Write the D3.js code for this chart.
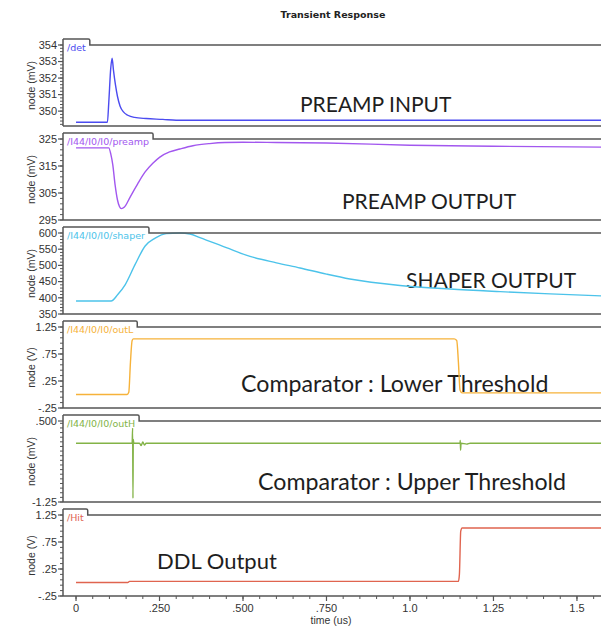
<!DOCTYPE html>
<html>
<head>
<meta charset="utf-8">
<script src="https://cdn.jsdelivr.net/npm/d3@7"></script>
<style>
  body { margin: 0; background: #fff; }
  svg { display: block; }
</style>
</head>
<body>
<div id="chart"></div>
<script>
// time axis (us)
const timeTicks = [0, 0.25, 0.5, 0.75, 1.0, 1.25, 1.5];
const timeTickLabels = ['0', '.250', '.500', '.750', '1.0', '1.25', '1.5'];

// signals
const detTime  = [0, 0.094, 0.098, 0.104, 0.108, 0.112, 0.118, 0.124, 0.132, 0.142, 0.155, 0.175, 0.21, 0.26, 0.3, 0.5, 1.0, 1.572];
const detValue = [349.33, 349.33, 350.5, 352.6, 353.2, 352.5, 351.6, 350.9, 350.3, 349.95, 349.75, 349.62, 349.55, 349.5, 349.45, 349.45, 349.45, 349.45];

const preampTime  = [0, 0.098, 0.104, 0.11, 0.117, 0.124, 0.13, 0.136, 0.145, 0.162, 0.185, 0.207, 0.23, 0.251, 0.28, 0.311, 0.35, 0.4, 0.446, 0.5, 0.6, 0.75, 1.0, 1.25, 1.572];
const preampValue = [321.7, 321.7, 319.5, 315.5, 308, 302.5, 300, 299.2, 299.8, 303.5, 308.5, 312.8, 316, 318.3, 320.2, 321.3, 322.5, 323.3, 323.7, 323.8, 323.7, 323.5, 322.7, 322.3, 322.0];

const shaperTime  = [0, 0.105, 0.125, 0.147, 0.177, 0.207, 0.237, 0.27, 0.311, 0.341, 0.371, 0.45, 0.521, 0.6, 0.671, 0.75, 0.82, 0.97, 1.12, 1.27, 1.42, 1.572];
const shaperValue = [390, 390, 410, 440, 503, 560, 584, 598, 600, 597, 586, 555, 528, 508, 492, 473, 458, 438, 427, 419, 412, 406];

const outLTime  = [0, 0.153, 0.158, 0.163, 0.168, 0.172, 0.5, 1.0, 1.132, 1.14, 1.145, 1.15, 1.156, 1.2, 1.572];
const outLValue = [0.0, 0.0, 0.04, 0.6, 1.0, 1.03, 1.03, 1.03, 1.03, 1.0, 0.6, 0.08, 0.03, 0.03, 0.03];

const outHTime  = [0, 0.168, 0.1695, 0.1705, 0.1715, 0.173, 0.19, 0.195, 0.2, 0.205, 0.21, 1.15, 1.1505, 1.1515, 1.153, 1.17, 1.18, 1.572];
const outHValue = [0.02, 0.02, 0.35, -1.17, 0.1, 0.02, 0.02, -0.03, 0.05, -0.02, 0.02, 0.02, 0.08, -0.13, 0.02, 0.0, 0.02, 0.02];

const hitTime  = [0, 0.155, 0.16, 0.5, 1.0, 1.145, 1.148, 1.152, 1.156, 1.2, 1.572];
const hitValue = [0.0, 0.0, 0.02, 0.02, 0.02, 0.02, 0.15, 0.95, 1.01, 1.01, 1.01];

const signalTimes  = [detTime, preampTime, shaperTime, outLTime, outHTime, hitTime];
const signalValues = [detValue, preampValue, shaperValue, outLValue, outHValue, hitValue];
const signalNames  = ['/det', '/I44/I0/I0/preamp', '/I44/I0/I0/shaper', '/I44/I0/I0/outL', '/I44/I0/I0/outH', '/Hit'];
const signalUnits  = ['node (mV)', 'node (mV)', 'node (mV)', 'node (V)', 'node (mV)', 'node (V)'];
const yDomains = [[349.1, 354], [295, 325], [350, 600], [-0.25, 1.25], [-1.25, 0.5], [-0.25, 1.25]];
const yTicks = [
  [350, 351, 352, 353, 354],
  [295, 305, 315, 325],
  [350, 400, 450, 500, 550, 600],
  [-0.25, 0.25, 0.75, 1.25],
  [-1.25, 0.5],
  [-0.25, 0.25, 0.75, 1.25]
];
const yTickLabels = [
  ['350', '351', '352', '353', '354'],
  ['295', '305', '315', '325'],
  ['350', '400', '450', '500', '550', '600'],
  ['-.25', '.25', '.75', '1.25'],
  ['-1.25', '.500'],
  ['-.25', '.25', '.75', '1.25']
];
const minorSteps = [0.2, 2, 10, 0.1, 0.1, 0.1];
const notes = ['PREAMP INPUT', 'PREAMP OUTPUT', 'SHAPER OUTPUT', 'Comparator : Lower Threshold', 'Comparator : Upper Threshold', 'DDL Output'];

const colors = ['#4b4bf0', '#a257ef', '#4cc3ea', '#f6b23a', '#83b347', '#e0644f'];
const notePos = [[300, 112], [342, 209], [406, 288], [241, 392], [258, 490], [157, 569]];
const noteSize = [21, 21, 21, 23.2, 23.2, 22];

const width = 601;
const height = 628;
const left = 63;
const panelTop = 45;
const panelStep = 94;
const panelH = 81;
const border = '#555';

let svg = d3.select('#chart')
            .append('svg')
            .attr('width', width)
            .attr('height', height);

svg.append('text')
   .attr('x', 333)
   .attr('y', 18)
   .attr('text-anchor', 'middle')
   .attr('font-family', 'DejaVu Sans, sans-serif')
   .attr('font-size', 9.5)
   .attr('font-weight', 600)
   .attr('fill', '#222')
   .text('Transient Response');

let x = d3.scaleLinear()
          .domain([-0.039, 1.572])
          .range([left, width]);

let defs = svg.append('defs');

signalNames.forEach((name, i) => {
  let top = panelTop + i * panelStep;
  let bottom = top + panelH;

  let y = d3.scaleLinear()
            .domain(yDomains[i])
            .range([bottom, top]);

  let g = svg.append('g');

  defs.append('clipPath')
      .attr('id', 'clip' + i)
      .append('rect')
        .attr('x', left + 1)
        .attr('y', top - 1)
        .attr('width', width - left)
        .attr('height', panelH + 1);

  // note
  g.append('text')
   .attr('x', notePos[i][0])
   .attr('y', notePos[i][1])
   .attr('font-family', 'Lato, sans-serif')
   .attr('font-size', noteSize[i])
   .attr('fill', '#1e1e1e')
   .text(notes[i]);

  let pts = signalTimes[i].map((t, k) => ({t: t, v: signalValues[i][k]}));
  let line = d3.line()
               .curve(d3.curveMonotoneX)
               .x(d => x(d.t))
               .y(d => y(d.v));

  g.append('path')
   .datum(pts)
   .attr('clip-path', 'url(#clip' + i + ')')
   .attr('fill', 'none')
   .attr('stroke', colors[i])
   .attr('stroke-width', 1.4)
   .attr('stroke-linejoin', 'round')
   .attr('d', line);

  // tab with signal name
  let label = g.append('text')
               .attr('x', left + 4)
               .attr('y', top + 6)
               .attr('font-family', 'DejaVu Sans, sans-serif')
               .attr('font-size', 9.5)
               .attr('fill', colors[i])
               .text(name);
  let tabEnd = left + 4 + label.node().getComputedTextLength() + 4;

  g.insert('rect', 'text:last-of-type')
   .attr('x', left + 1)
   .attr('y', top - 5)
   .attr('width', tabEnd - left - 1)
   .attr('height', 12)
   .attr('fill', '#fff');
  label.raise();

  g.append('path')
   .attr('d', 'M' + left + ',' + (top - 6) + 'H' + (tabEnd - 1.5) + 'Q' + tabEnd + ',' + (top - 6) + ' ' + tabEnd + ',' + (top - 4.5) + 'V' + top + 'H' + width)
   .attr('fill', 'none')
   .attr('stroke', border)
   .attr('stroke-width', 1.5);

  g.append('line')
   .attr('x1', left).attr('x2', width)
   .attr('y1', bottom).attr('y2', bottom)
   .attr('stroke', border)
   .attr('stroke-width', 1.5);

  g.append('line')
   .attr('x1', left).attr('x2', left)
   .attr('y1', top - 6).attr('y2', bottom)
   .attr('stroke', border)
   .attr('stroke-width', 1.5);

  // y ticks
  let minor = d3.range(yDomains[i][0], yDomains[i][1] + 1e-9, minorSteps[i])
                .filter(v => y(v) >= top - 0.5);
  if (i === 0) minor = d3.range(349.2, 354.01, minorSteps[i]);

  g.selectAll('.minor')
   .data(minor)
   .enter().append('line')
     .attr('x1', left - 3).attr('x2', left)
     .attr('y1', d => y(d)).attr('y2', d => y(d))
     .attr('stroke', border)
     .attr('stroke-width', 1);

  g.selectAll('.major')
   .data(yTicks[i])
   .enter().append('line')
     .attr('x1', left - 5).attr('x2', left)
     .attr('y1', d => y(d)).attr('y2', d => y(d))
     .attr('stroke', border)
     .attr('stroke-width', 1.2);

  g.selectAll('.ylab')
   .data(yTicks[i])
   .enter().append('text')
     .attr('x', left - 6)
     .attr('y', d => y(d))
     .attr('dy', '0.35em')
     .attr('text-anchor', 'end')
     .attr('font-family', 'Liberation Sans, sans-serif')
     .attr('font-size', 11)
     .attr('fill', '#333')
     .text((d, k) => yTickLabels[i][k]);

  g.append('text')
   .attr('transform', 'translate(31,' + (top + panelH / 2) + ') rotate(-90)')
   .attr('text-anchor', 'middle')
   .attr('dy', '0.35em')
   .attr('font-family', 'Liberation Sans, sans-serif')
   .attr('font-size', 10.5)
   .attr('fill', '#333')
   .text(signalUnits[i]);
});

// time axis under the last panel
let axisY = panelTop + 5 * panelStep + panelH;

svg.selectAll('.xminor')
   .data(d3.range(-0.0, 1.5701, 0.05))
   .enter().append('line')
     .attr('x1', d => x(d)).attr('x2', d => x(d))
     .attr('y1', axisY).attr('y2', axisY + 3)
     .attr('stroke', border)
     .attr('stroke-width', 1);

svg.selectAll('.xmajor')
   .data(timeTicks)
   .enter().append('line')
     .attr('x1', d => x(d)).attr('x2', d => x(d))
     .attr('y1', axisY).attr('y2', axisY + 5)
     .attr('stroke', border)
     .attr('stroke-width', 1.2);

svg.selectAll('.xlab')
   .data(timeTicks)
   .enter().append('text')
     .attr('x', d => x(d))
     .attr('y', axisY + 16)
     .attr('text-anchor', 'middle')
     .attr('font-family', 'Liberation Sans, sans-serif')
     .attr('font-size', 11)
     .attr('fill', '#333')
     .text((d, k) => timeTickLabels[k]);

svg.append('text')
   .attr('x', 331)
   .attr('y', axisY + 28)
   .attr('text-anchor', 'middle')
   .attr('font-family', 'Liberation Sans, sans-serif')
   .attr('font-size', 10.5)
   .attr('fill', '#333')
   .text('time (us)');
</script>
</body>
</html>
